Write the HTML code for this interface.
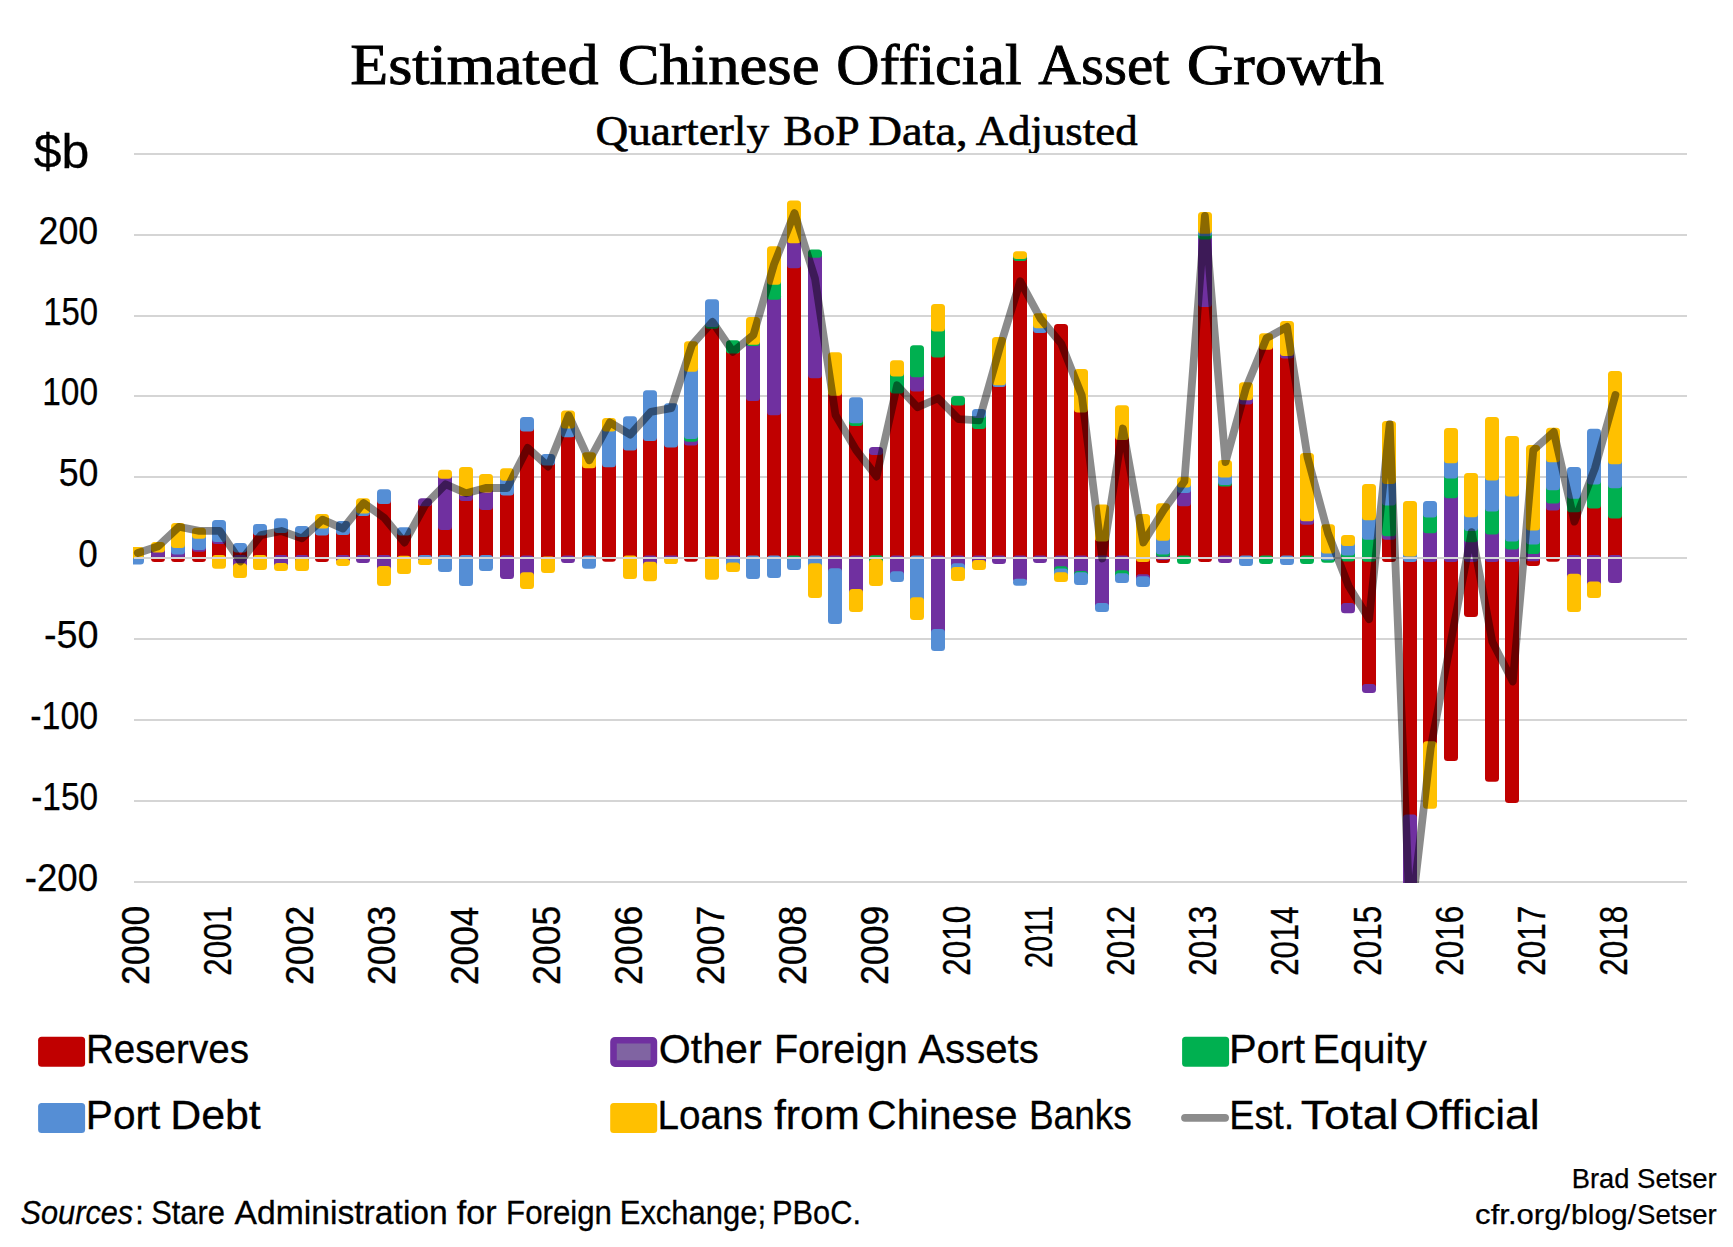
<!DOCTYPE html>
<html lang="en"><head><meta charset="utf-8"><title>Estimated Chinese Official Asset Growth</title>
<style>
html,body{margin:0;padding:0;background:#fff;}
svg{display:block;}
.sans{font-family:"Liberation Sans",sans-serif;fill:#000;}
.serif{font-family:"Liberation Serif",serif;fill:#000;}
</style></head><body>
<svg width="1733" height="1247" viewBox="0 0 1733 1247">
<rect width="1733" height="1247" fill="#fff"/>
<defs><clipPath id="plot"><rect x="133.1" y="133" width="1553.9" height="750"/></clipPath></defs>
<text class="serif" y="84" font-size="58" stroke="#000" stroke-width="0.9"><tspan x="350.23" textLength="248.22" lengthAdjust="spacingAndGlyphs">Estimated</tspan> <tspan x="617.74" textLength="201.79" lengthAdjust="spacingAndGlyphs">Chinese</tspan> <tspan x="836.33" textLength="185.27" lengthAdjust="spacingAndGlyphs">Official</tspan> <tspan x="1038.3" textLength="131.19" lengthAdjust="spacingAndGlyphs">Asset</tspan> <tspan x="1186.77" textLength="197.15" lengthAdjust="spacingAndGlyphs">Growth</tspan></text>
<text class="serif" y="145.4" font-size="43" stroke="#000" stroke-width="0.6"><tspan x="595.45" textLength="173.71" lengthAdjust="spacingAndGlyphs">Quarterly</tspan> <tspan x="783.29" textLength="74.83" lengthAdjust="spacingAndGlyphs">BoP</tspan> <tspan x="868.42" textLength="99.25" lengthAdjust="spacingAndGlyphs">Data,</tspan> <tspan x="975.7" textLength="161.89" lengthAdjust="spacingAndGlyphs">Adjusted</tspan></text>
<text class="sans" x="33.7" y="167.5" font-size="48.5" textLength="55.61" lengthAdjust="spacingAndGlyphs" stroke="#000" stroke-width="0.3">$b</text>
<g stroke="#D5D5D5" stroke-width="2">
<line x1="134" y1="154" x2="1687" y2="154"/>
<line x1="134" y1="235" x2="1687" y2="235"/>
<line x1="134" y1="316" x2="1687" y2="316"/>
<line x1="134" y1="396" x2="1687" y2="396"/>
<line x1="134" y1="477" x2="1687" y2="477"/>
<line x1="134" y1="639" x2="1687" y2="639"/>
<line x1="134" y1="720" x2="1687" y2="720"/>
<line x1="134" y1="801" x2="1687" y2="801"/>
<line x1="134" y1="882" x2="1687" y2="882"/>
</g>
<text class="sans" x="38.58" y="244.1" font-size="39" textLength="59.6" lengthAdjust="spacingAndGlyphs" stroke="#000" stroke-width="0.25">200</text>
<text class="sans" x="43.21" y="325.1" font-size="39" textLength="54.9" lengthAdjust="spacingAndGlyphs" stroke="#000" stroke-width="0.25">150</text>
<text class="sans" x="42.23" y="405.1" font-size="39" textLength="55.89" lengthAdjust="spacingAndGlyphs" stroke="#000" stroke-width="0.25">100</text>
<text class="sans" x="58.79" y="486.1" font-size="39" textLength="39.69" lengthAdjust="spacingAndGlyphs" stroke="#000" stroke-width="0.25">50</text>
<text class="sans" x="78.3" y="567.1" font-size="39" textLength="19.53" lengthAdjust="spacingAndGlyphs" stroke="#000" stroke-width="0.25">0</text>
<text class="sans" x="43.93" y="648.1" font-size="39" textLength="54.6" lengthAdjust="spacingAndGlyphs" stroke="#000" stroke-width="0.25">-50</text>
<text class="sans" x="30.23" y="729.1" font-size="39" textLength="67.89" lengthAdjust="spacingAndGlyphs" stroke="#000" stroke-width="0.25">-100</text>
<text class="sans" x="31.24" y="810.1" font-size="39" textLength="66.87" lengthAdjust="spacingAndGlyphs" stroke="#000" stroke-width="0.25">-150</text>
<text class="sans" x="24.76" y="891.1" font-size="39" textLength="73.44" lengthAdjust="spacingAndGlyphs" stroke="#000" stroke-width="0.25">-200</text>
<g clip-path="url(#plot)">
<rect x="130" y="551.2" width="14" height="13.4" rx="3.5" fill="#558ED5"/>
<rect x="130" y="547.1" width="14" height="11.1" rx="3.5" fill="#FFC000"/>
<rect x="151" y="551.3" width="14" height="10.6" rx="3.5" fill="#C00000"/>
<rect x="151" y="545.6" width="14" height="12.7" rx="3.5" fill="#7030A0"/>
<rect x="151" y="542" width="14" height="10.6" rx="3.5" fill="#FFC000"/>
<rect x="171" y="551.2" width="14" height="10.7" rx="3.5" fill="#C00000"/>
<rect x="171" y="547.5" width="14" height="10.7" rx="3.5" fill="#7030A0"/>
<rect x="171" y="541" width="14" height="13.5" rx="3.5" fill="#558ED5"/>
<rect x="171" y="523.1" width="14" height="24.9" rx="3.5" fill="#FFC000"/>
<rect x="192" y="544.7" width="14" height="17.2" rx="3.5" fill="#C00000"/>
<rect x="192" y="542.9" width="14" height="8.8" rx="3.5" fill="#7030A0"/>
<rect x="192" y="531.8" width="14" height="18.1" rx="3.5" fill="#558ED5"/>
<rect x="192" y="527.7" width="14" height="11.1" rx="3.5" fill="#FFC000"/>
<rect x="212" y="536.9" width="14" height="25" rx="3.5" fill="#C00000"/>
<rect x="212" y="535" width="14" height="8.9" rx="3.5" fill="#7030A0"/>
<rect x="212" y="519.9" width="14" height="22.1" rx="3.5" fill="#558ED5"/>
<rect x="212" y="554.9" width="14" height="13.9" rx="3.5" fill="#FFC000"/>
<rect x="233" y="546.4" width="14" height="15.5" rx="3.5" fill="#C00000"/>
<rect x="233" y="554.9" width="14" height="15.4" rx="3.5" fill="#7030A0"/>
<rect x="233" y="542.9" width="14" height="9.7" rx="3.5" fill="#558ED5"/>
<rect x="233" y="563.3" width="14" height="14.7" rx="3.5" fill="#FFC000"/>
<rect x="253" y="528.5" width="14" height="33.4" rx="3.5" fill="#C00000"/>
<rect x="253" y="524" width="14" height="11.5" rx="3.5" fill="#558ED5"/>
<rect x="253" y="554.9" width="14" height="15" rx="3.5" fill="#FFC000"/>
<rect x="274" y="526" width="14" height="36" rx="3.5" fill="#C00000"/>
<rect x="274" y="555" width="14" height="12.4" rx="3.5" fill="#7030A0"/>
<rect x="274" y="518.2" width="14" height="14.8" rx="3.5" fill="#558ED5"/>
<rect x="274" y="563" width="14" height="7.9" rx="3.5" fill="#FFC000"/>
<rect x="295" y="530" width="14" height="32" rx="3.5" fill="#C00000"/>
<rect x="295" y="555" width="14" height="9.7" rx="3.5" fill="#7030A0"/>
<rect x="295" y="525.9" width="14" height="11.1" rx="3.5" fill="#558ED5"/>
<rect x="295" y="557.7" width="14" height="13.2" rx="3.5" fill="#FFC000"/>
<rect x="315" y="528.6" width="14" height="33.3" rx="3.5" fill="#C00000"/>
<rect x="315" y="521.6" width="14" height="14" rx="3.5" fill="#558ED5"/>
<rect x="315" y="514.1" width="14" height="14.5" rx="3.5" fill="#FFC000"/>
<rect x="336" y="527.9" width="14" height="34.1" rx="3.5" fill="#C00000"/>
<rect x="336" y="555" width="14" height="7.5" rx="3.5" fill="#7030A0"/>
<rect x="336" y="521" width="14" height="13.9" rx="3.5" fill="#558ED5"/>
<rect x="336" y="559.1" width="14" height="6.9" rx="3.4" fill="#FFC000"/>
<rect x="356" y="508.9" width="14" height="50.6" rx="3.5" fill="#C00000"/>
<rect x="356" y="555" width="14" height="8" rx="3.5" fill="#7030A0"/>
<rect x="356" y="506.4" width="14" height="9.5" rx="3.5" fill="#558ED5"/>
<rect x="356" y="498.2" width="14" height="15.2" rx="3.5" fill="#FFC000"/>
<rect x="377" y="497" width="14" height="65" rx="3.5" fill="#C00000"/>
<rect x="377" y="555" width="14" height="18" rx="3.5" fill="#7030A0"/>
<rect x="377" y="489.2" width="14" height="14.8" rx="3.5" fill="#558ED5"/>
<rect x="377" y="566" width="14" height="20.1" rx="3.5" fill="#FFC000"/>
<rect x="397" y="530.8" width="14" height="31.9" rx="3.5" fill="#C00000"/>
<rect x="397" y="527.3" width="14" height="8.3" rx="3.5" fill="#558ED5"/>
<rect x="397" y="555.7" width="14" height="18.4" rx="3.5" fill="#FFC000"/>
<rect x="418" y="501.7" width="14" height="59.9" rx="3.5" fill="#C00000"/>
<rect x="418" y="498.2" width="14" height="8" rx="3.5" fill="#7030A0"/>
<rect x="418" y="555" width="14" height="6.6" rx="3.3" fill="#558ED5"/>
<rect x="418" y="559.1" width="14" height="6" rx="3" fill="#FFC000"/>
<rect x="438" y="523" width="14" height="39" rx="3.5" fill="#C00000"/>
<rect x="438" y="473.3" width="14" height="56.7" rx="3.5" fill="#7030A0"/>
<rect x="438" y="555" width="14" height="16.9" rx="3.5" fill="#558ED5"/>
<rect x="438" y="469.8" width="14" height="9" rx="3.5" fill="#FFC000"/>
<rect x="459" y="493.9" width="14" height="68.1" rx="3.5" fill="#C00000"/>
<rect x="459" y="489.1" width="14" height="11.8" rx="3.5" fill="#7030A0"/>
<rect x="459" y="555" width="14" height="31.1" rx="3.5" fill="#558ED5"/>
<rect x="459" y="467" width="14" height="29.1" rx="3.5" fill="#FFC000"/>
<rect x="479" y="502.9" width="14" height="59.1" rx="3.5" fill="#C00000"/>
<rect x="479" y="485.6" width="14" height="24.3" rx="3.5" fill="#7030A0"/>
<rect x="479" y="555" width="14" height="15.9" rx="3.5" fill="#558ED5"/>
<rect x="479" y="473.9" width="14" height="18.7" rx="3.5" fill="#FFC000"/>
<rect x="500" y="488.5" width="14" height="73.8" rx="3.5" fill="#C00000"/>
<rect x="500" y="555.3" width="14" height="23.7" rx="3.5" fill="#7030A0"/>
<rect x="500" y="473.7" width="14" height="21.8" rx="3.5" fill="#558ED5"/>
<rect x="500" y="468.3" width="14" height="12.4" rx="3.5" fill="#FFC000"/>
<rect x="520" y="424.5" width="14" height="138.1" rx="3.5" fill="#C00000"/>
<rect x="520" y="555.6" width="14" height="23.7" rx="3.5" fill="#7030A0"/>
<rect x="520" y="417.1" width="14" height="14.4" rx="3.5" fill="#558ED5"/>
<rect x="520" y="572.3" width="14" height="16.8" rx="3.5" fill="#FFC000"/>
<rect x="541" y="458.6" width="14" height="104.9" rx="3.5" fill="#C00000"/>
<rect x="541" y="454.1" width="14" height="11.5" rx="3.5" fill="#558ED5"/>
<rect x="541" y="556.5" width="14" height="16.4" rx="3.5" fill="#FFC000"/>
<rect x="561" y="430.3" width="14" height="129.2" rx="3.5" fill="#C00000"/>
<rect x="561" y="555.6" width="14" height="7.4" rx="3.5" fill="#7030A0"/>
<rect x="561" y="421.5" width="14" height="15.8" rx="3.5" fill="#558ED5"/>
<rect x="561" y="410.4" width="14" height="18.1" rx="3.5" fill="#FFC000"/>
<rect x="582" y="461.2" width="14" height="101.4" rx="3.5" fill="#C00000"/>
<rect x="582" y="555.6" width="14" height="13.2" rx="3.5" fill="#558ED5"/>
<rect x="582" y="452.3" width="14" height="15.9" rx="3.5" fill="#FFC000"/>
<rect x="602" y="460.3" width="14" height="101.5" rx="3.5" fill="#C00000"/>
<rect x="602" y="424.5" width="14" height="42.8" rx="3.5" fill="#558ED5"/>
<rect x="602" y="417.9" width="14" height="13.6" rx="3.5" fill="#FFC000"/>
<rect x="623" y="443.6" width="14" height="119" rx="3.5" fill="#C00000"/>
<rect x="623" y="416.2" width="14" height="34.4" rx="3.5" fill="#558ED5"/>
<rect x="623" y="555.6" width="14" height="23.4" rx="3.5" fill="#FFC000"/>
<rect x="643" y="433.9" width="14" height="128.7" rx="3.5" fill="#C00000"/>
<rect x="643" y="555.6" width="14" height="13.2" rx="3.5" fill="#7030A0"/>
<rect x="643" y="390.2" width="14" height="50.7" rx="3.5" fill="#558ED5"/>
<rect x="643" y="561.8" width="14" height="19.4" rx="3.5" fill="#FFC000"/>
<rect x="664" y="440.6" width="14" height="119.9" rx="3.5" fill="#C00000"/>
<rect x="664" y="555.6" width="14" height="4.9" rx="2.4" fill="#7030A0"/>
<rect x="664" y="403.3" width="14" height="44.3" rx="3.5" fill="#558ED5"/>
<rect x="664" y="557.3" width="14" height="6.7" rx="3.4" fill="#FFC000"/>
<rect x="684" y="438.6" width="14" height="123.2" rx="3.5" fill="#C00000"/>
<rect x="684" y="434.8" width="14" height="10.8" rx="3.5" fill="#7030A0"/>
<rect x="684" y="432.1" width="14" height="9.7" rx="3.5" fill="#00B050"/>
<rect x="684" y="364.7" width="14" height="74.4" rx="3.5" fill="#558ED5"/>
<rect x="684" y="341.2" width="14" height="30.5" rx="3.5" fill="#FFC000"/>
<rect x="705" y="321.8" width="14" height="241.7" rx="3.5" fill="#C00000"/>
<rect x="705" y="320.1" width="14" height="8.7" rx="3.5" fill="#00B050"/>
<rect x="705" y="299.3" width="14" height="27.8" rx="3.5" fill="#558ED5"/>
<rect x="705" y="556.5" width="14" height="23.3" rx="3.5" fill="#FFC000"/>
<rect x="726" y="346.5" width="14" height="216.1" rx="3.5" fill="#C00000"/>
<rect x="726" y="555.6" width="14" height="8.7" rx="3.5" fill="#7030A0"/>
<rect x="726" y="340.3" width="14" height="13.2" rx="3.5" fill="#00B050"/>
<rect x="726" y="557.3" width="14" height="11.2" rx="3.5" fill="#558ED5"/>
<rect x="726" y="562.6" width="14" height="9.4" rx="3.5" fill="#FFC000"/>
<rect x="746" y="394" width="14" height="168.4" rx="3.5" fill="#C00000"/>
<rect x="746" y="338.9" width="14" height="62.1" rx="3.5" fill="#7030A0"/>
<rect x="746" y="337.7" width="14" height="8.2" rx="3.5" fill="#00B050"/>
<rect x="746" y="555.4" width="14" height="23.6" rx="3.5" fill="#558ED5"/>
<rect x="746" y="317" width="14" height="27.7" rx="3.5" fill="#FFC000"/>
<rect x="767" y="408.3" width="14" height="154.3" rx="3.5" fill="#C00000"/>
<rect x="767" y="292.7" width="14" height="122.6" rx="3.5" fill="#7030A0"/>
<rect x="767" y="277.7" width="14" height="22" rx="3.5" fill="#00B050"/>
<rect x="767" y="555.6" width="14" height="22.4" rx="3.5" fill="#558ED5"/>
<rect x="767" y="246.2" width="14" height="38.5" rx="3.5" fill="#FFC000"/>
<rect x="787" y="261.3" width="14" height="301.3" rx="3.5" fill="#C00000"/>
<rect x="787" y="236.2" width="14" height="32.1" rx="3.5" fill="#7030A0"/>
<rect x="787" y="555.6" width="14" height="8.7" rx="3.5" fill="#00B050"/>
<rect x="787" y="557.3" width="14" height="12.7" rx="3.5" fill="#558ED5"/>
<rect x="787" y="200.4" width="14" height="42.8" rx="3.5" fill="#FFC000"/>
<rect x="808" y="371.2" width="14" height="191.2" rx="3.5" fill="#C00000"/>
<rect x="808" y="252.9" width="14" height="125.3" rx="3.5" fill="#7030A0"/>
<rect x="808" y="249.4" width="14" height="8.3" rx="3.5" fill="#00B050"/>
<rect x="808" y="555.4" width="14" height="14.9" rx="3.5" fill="#558ED5"/>
<rect x="808" y="563.3" width="14" height="34.7" rx="3.5" fill="#FFC000"/>
<rect x="828" y="388.7" width="14" height="173.7" rx="3.5" fill="#C00000"/>
<rect x="828" y="555.4" width="14" height="19.8" rx="3.5" fill="#7030A0"/>
<rect x="828" y="568.2" width="14" height="55.9" rx="3.5" fill="#558ED5"/>
<rect x="828" y="352.3" width="14" height="43.4" rx="3.5" fill="#FFC000"/>
<rect x="849" y="418.9" width="14" height="143.5" rx="3.5" fill="#C00000"/>
<rect x="849" y="555.4" width="14" height="40.7" rx="3.5" fill="#7030A0"/>
<rect x="849" y="416.2" width="14" height="9.7" rx="3.5" fill="#00B050"/>
<rect x="849" y="397.2" width="14" height="26" rx="3.5" fill="#558ED5"/>
<rect x="849" y="589.1" width="14" height="22.9" rx="3.5" fill="#FFC000"/>
<rect x="869" y="450.6" width="14" height="111.6" rx="3.5" fill="#C00000"/>
<rect x="869" y="447.1" width="14" height="7.9" rx="3.5" fill="#7030A0"/>
<rect x="869" y="555.2" width="14" height="10.8" rx="3.5" fill="#00B050"/>
<rect x="869" y="559" width="14" height="27" rx="3.5" fill="#FFC000"/>
<rect x="890" y="386.5" width="14" height="175.9" rx="3.5" fill="#C00000"/>
<rect x="890" y="555.4" width="14" height="22.8" rx="3.5" fill="#7030A0"/>
<rect x="890" y="369.5" width="14" height="24" rx="3.5" fill="#00B050"/>
<rect x="890" y="571.2" width="14" height="10.9" rx="3.5" fill="#558ED5"/>
<rect x="890" y="360.2" width="14" height="16.3" rx="3.5" fill="#FFC000"/>
<rect x="910" y="384.5" width="14" height="177.9" rx="3.5" fill="#C00000"/>
<rect x="910" y="370.3" width="14" height="21.2" rx="3.5" fill="#7030A0"/>
<rect x="910" y="345.2" width="14" height="32.1" rx="3.5" fill="#00B050"/>
<rect x="910" y="555.4" width="14" height="48.8" rx="3.5" fill="#558ED5"/>
<rect x="910" y="597.2" width="14" height="22.9" rx="3.5" fill="#FFC000"/>
<rect x="931" y="350.6" width="14" height="211.8" rx="3.5" fill="#C00000"/>
<rect x="931" y="555.4" width="14" height="80.7" rx="3.5" fill="#7030A0"/>
<rect x="931" y="324.5" width="14" height="33.1" rx="3.5" fill="#00B050"/>
<rect x="931" y="629.1" width="14" height="21.8" rx="3.5" fill="#558ED5"/>
<rect x="931" y="304.1" width="14" height="27.4" rx="3.5" fill="#FFC000"/>
<rect x="951" y="399.4" width="14" height="163" rx="3.5" fill="#C00000"/>
<rect x="951" y="555.4" width="14" height="14.8" rx="3.5" fill="#7030A0"/>
<rect x="951" y="395.9" width="14" height="9.7" rx="3.5" fill="#00B050"/>
<rect x="951" y="563.2" width="14" height="10.9" rx="3.5" fill="#558ED5"/>
<rect x="951" y="567.1" width="14" height="14" rx="3.5" fill="#FFC000"/>
<rect x="972" y="422.1" width="14" height="140.3" rx="3.5" fill="#C00000"/>
<rect x="972" y="555.4" width="14" height="11.1" rx="3.5" fill="#7030A0"/>
<rect x="972" y="412.6" width="14" height="16.5" rx="3.5" fill="#00B050"/>
<rect x="972" y="409.1" width="14" height="8.8" rx="3.5" fill="#558ED5"/>
<rect x="972" y="560.1" width="14" height="9.9" rx="3.5" fill="#FFC000"/>
<rect x="992" y="380" width="14" height="180.4" rx="3.5" fill="#C00000"/>
<rect x="992" y="555.4" width="14" height="8.5" rx="3.5" fill="#7030A0"/>
<rect x="992" y="378.3" width="14" height="8.7" rx="3.5" fill="#558ED5"/>
<rect x="992" y="337.1" width="14" height="48.2" rx="3.5" fill="#FFC000"/>
<rect x="1013" y="254.7" width="14" height="307.9" rx="3.5" fill="#C00000"/>
<rect x="1013" y="555.6" width="14" height="26.6" rx="3.5" fill="#7030A0"/>
<rect x="1013" y="254.7" width="14" height="6.2" rx="3.1" fill="#00B050"/>
<rect x="1013" y="578.7" width="14" height="7" rx="3.5" fill="#558ED5"/>
<rect x="1013" y="251.2" width="14" height="7.9" rx="3.5" fill="#FFC000"/>
<rect x="1033" y="325.9" width="14" height="233.6" rx="3.5" fill="#C00000"/>
<rect x="1033" y="555.6" width="14" height="7.4" rx="3.5" fill="#7030A0"/>
<rect x="1033" y="321.3" width="14" height="11.6" rx="3.5" fill="#558ED5"/>
<rect x="1033" y="313.3" width="14" height="15" rx="3.5" fill="#FFC000"/>
<rect x="1054" y="324.1" width="14" height="238.5" rx="3.5" fill="#C00000"/>
<rect x="1054" y="555.6" width="14" height="17.6" rx="3.5" fill="#7030A0"/>
<rect x="1054" y="566.2" width="14" height="9.3" rx="3.5" fill="#00B050"/>
<rect x="1054" y="568.5" width="14" height="10" rx="3.5" fill="#558ED5"/>
<rect x="1054" y="572.3" width="14" height="9.7" rx="3.5" fill="#FFC000"/>
<rect x="1074" y="405.6" width="14" height="157" rx="3.5" fill="#C00000"/>
<rect x="1074" y="555.6" width="14" height="22.5" rx="3.5" fill="#7030A0"/>
<rect x="1074" y="571.1" width="14" height="8.2" rx="3.5" fill="#00B050"/>
<rect x="1074" y="572.3" width="14" height="12.7" rx="3.5" fill="#558ED5"/>
<rect x="1074" y="369" width="14" height="43.6" rx="3.5" fill="#FFC000"/>
<rect x="1095" y="534.6" width="14" height="27.8" rx="3.5" fill="#C00000"/>
<rect x="1095" y="555.4" width="14" height="53" rx="3.5" fill="#7030A0"/>
<rect x="1095" y="603.1" width="14" height="8.8" rx="3.5" fill="#558ED5"/>
<rect x="1095" y="504.4" width="14" height="37.2" rx="3.5" fill="#FFC000"/>
<rect x="1115" y="433" width="14" height="129.6" rx="3.5" fill="#C00000"/>
<rect x="1115" y="555.6" width="14" height="21.6" rx="3.5" fill="#7030A0"/>
<rect x="1115" y="570.2" width="14" height="9.2" rx="3.5" fill="#00B050"/>
<rect x="1115" y="573.2" width="14" height="9.7" rx="3.5" fill="#558ED5"/>
<rect x="1115" y="405.2" width="14" height="34.8" rx="3.5" fill="#FFC000"/>
<rect x="1136" y="555" width="14" height="26.3" rx="3.5" fill="#C00000"/>
<rect x="1136" y="574.3" width="14" height="8.9" rx="3.5" fill="#7030A0"/>
<rect x="1136" y="576.2" width="14" height="10.7" rx="3.5" fill="#558ED5"/>
<rect x="1136" y="514" width="14" height="48" rx="3.5" fill="#FFC000"/>
<rect x="1156" y="553" width="14" height="10" rx="3.5" fill="#C00000"/>
<rect x="1156" y="549.7" width="14" height="10.3" rx="3.5" fill="#7030A0"/>
<rect x="1156" y="547.6" width="14" height="9.1" rx="3.5" fill="#00B050"/>
<rect x="1156" y="533.7" width="14" height="20.9" rx="3.5" fill="#558ED5"/>
<rect x="1156" y="503.2" width="14" height="37.5" rx="3.5" fill="#FFC000"/>
<rect x="1177" y="499.2" width="14" height="61.3" rx="3.5" fill="#C00000"/>
<rect x="1177" y="485.9" width="14" height="20.3" rx="3.5" fill="#7030A0"/>
<rect x="1177" y="555.6" width="14" height="8.4" rx="3.5" fill="#00B050"/>
<rect x="1177" y="480.6" width="14" height="12.3" rx="3.5" fill="#558ED5"/>
<rect x="1177" y="477.1" width="14" height="10.5" rx="3.5" fill="#FFC000"/>
<rect x="1198" y="300" width="14" height="262" rx="3.5" fill="#C00000"/>
<rect x="1198" y="232.5" width="14" height="74.5" rx="3.5" fill="#7030A0"/>
<rect x="1198" y="229.2" width="14" height="10.3" rx="3.5" fill="#00B050"/>
<rect x="1198" y="226.8" width="14" height="9.4" rx="3.5" fill="#558ED5"/>
<rect x="1198" y="212" width="14" height="21.8" rx="3.5" fill="#FFC000"/>
<rect x="1218" y="479.4" width="14" height="80.1" rx="3.5" fill="#C00000"/>
<rect x="1218" y="555.6" width="14" height="7.4" rx="3.5" fill="#7030A0"/>
<rect x="1218" y="478" width="14" height="8.4" rx="3.5" fill="#00B050"/>
<rect x="1218" y="470.6" width="14" height="14.4" rx="3.5" fill="#558ED5"/>
<rect x="1218" y="459.9" width="14" height="17.7" rx="3.5" fill="#FFC000"/>
<rect x="1239" y="397.5" width="14" height="164.9" rx="3.5" fill="#C00000"/>
<rect x="1239" y="393.2" width="14" height="11.3" rx="3.5" fill="#7030A0"/>
<rect x="1239" y="555.6" width="14" height="10.3" rx="3.5" fill="#558ED5"/>
<rect x="1239" y="382.2" width="14" height="18" rx="3.5" fill="#FFC000"/>
<rect x="1259" y="342.7" width="14" height="217.8" rx="3.5" fill="#C00000"/>
<rect x="1259" y="555.6" width="14" height="8.4" rx="3.5" fill="#00B050"/>
<rect x="1259" y="333.3" width="14" height="16.4" rx="3.5" fill="#FFC000"/>
<rect x="1280" y="351.5" width="14" height="209.9" rx="3.5" fill="#C00000"/>
<rect x="1280" y="348.9" width="14" height="9.6" rx="3.5" fill="#7030A0"/>
<rect x="1280" y="555.6" width="14" height="9.3" rx="3.5" fill="#558ED5"/>
<rect x="1280" y="321.1" width="14" height="34.8" rx="3.5" fill="#FFC000"/>
<rect x="1300" y="517.7" width="14" height="42.8" rx="3.5" fill="#C00000"/>
<rect x="1300" y="514.2" width="14" height="10.5" rx="3.5" fill="#7030A0"/>
<rect x="1300" y="555.6" width="14" height="8.4" rx="3.5" fill="#00B050"/>
<rect x="1300" y="452.9" width="14" height="68.3" rx="3.5" fill="#FFC000"/>
<rect x="1321" y="553.3" width="14" height="9.5" rx="3.5" fill="#00B050"/>
<rect x="1321" y="546.6" width="14" height="13.7" rx="3.5" fill="#558ED5"/>
<rect x="1321" y="524.3" width="14" height="29.3" rx="3.5" fill="#FFC000"/>
<rect x="1341" y="554.6" width="14" height="55.1" rx="3.5" fill="#C00000"/>
<rect x="1341" y="602.9" width="14" height="10.3" rx="3.5" fill="#7030A0"/>
<rect x="1341" y="548.6" width="14" height="13" rx="3.5" fill="#00B050"/>
<rect x="1341" y="538.9" width="14" height="16.7" rx="3.5" fill="#558ED5"/>
<rect x="1341" y="534.9" width="14" height="11" rx="3.5" fill="#FFC000"/>
<rect x="1362" y="554.7" width="14" height="134.7" rx="3.5" fill="#C00000"/>
<rect x="1362" y="684.1" width="14" height="8.8" rx="3.5" fill="#7030A0"/>
<rect x="1362" y="532.7" width="14" height="29" rx="3.5" fill="#00B050"/>
<rect x="1362" y="513.3" width="14" height="26.4" rx="3.5" fill="#558ED5"/>
<rect x="1362" y="484.1" width="14" height="36.2" rx="3.5" fill="#FFC000"/>
<rect x="1382" y="532.7" width="14" height="29.2" rx="3.5" fill="#C00000"/>
<rect x="1382" y="529.2" width="14" height="10.5" rx="3.5" fill="#7030A0"/>
<rect x="1382" y="498.6" width="14" height="37.6" rx="3.5" fill="#00B050"/>
<rect x="1382" y="477.1" width="14" height="28.5" rx="3.5" fill="#558ED5"/>
<rect x="1382" y="420.9" width="14" height="63.2" rx="3.5" fill="#FFC000"/>
<rect x="1403" y="555" width="14" height="266.4" rx="3.5" fill="#C00000"/>
<rect x="1403" y="814.4" width="14" height="115.6" rx="3.5" fill="#7030A0"/>
<rect x="1403" y="549.5" width="14" height="12.5" rx="3.5" fill="#558ED5"/>
<rect x="1403" y="500.9" width="14" height="55.6" rx="3.5" fill="#FFC000"/>
<rect x="1423" y="554.9" width="14" height="193.4" rx="3.5" fill="#C00000"/>
<rect x="1423" y="526.2" width="14" height="35.7" rx="3.5" fill="#7030A0"/>
<rect x="1423" y="510.6" width="14" height="22.6" rx="3.5" fill="#00B050"/>
<rect x="1423" y="500.9" width="14" height="16.7" rx="3.5" fill="#558ED5"/>
<rect x="1423" y="741.3" width="14" height="67.5" rx="3.5" fill="#FFC000"/>
<rect x="1444" y="554.9" width="14" height="206" rx="3.5" fill="#C00000"/>
<rect x="1444" y="491.2" width="14" height="70.7" rx="3.5" fill="#7030A0"/>
<rect x="1444" y="471.5" width="14" height="26.7" rx="3.5" fill="#00B050"/>
<rect x="1444" y="456.3" width="14" height="22.2" rx="3.5" fill="#558ED5"/>
<rect x="1444" y="428" width="14" height="35.3" rx="3.5" fill="#FFC000"/>
<rect x="1464" y="554.9" width="14" height="62.2" rx="3.5" fill="#C00000"/>
<rect x="1464" y="535.3" width="14" height="26.6" rx="3.5" fill="#7030A0"/>
<rect x="1464" y="523.9" width="14" height="18.4" rx="3.5" fill="#00B050"/>
<rect x="1464" y="510.3" width="14" height="20.6" rx="3.5" fill="#558ED5"/>
<rect x="1464" y="473" width="14" height="44.3" rx="3.5" fill="#FFC000"/>
<rect x="1485" y="554.9" width="14" height="226.9" rx="3.5" fill="#C00000"/>
<rect x="1485" y="527.4" width="14" height="34.5" rx="3.5" fill="#7030A0"/>
<rect x="1485" y="504.5" width="14" height="29.9" rx="3.5" fill="#00B050"/>
<rect x="1485" y="473.6" width="14" height="37.9" rx="3.5" fill="#558ED5"/>
<rect x="1485" y="417.1" width="14" height="63.5" rx="3.5" fill="#FFC000"/>
<rect x="1505" y="554.9" width="14" height="248" rx="3.5" fill="#C00000"/>
<rect x="1505" y="542.4" width="14" height="19.5" rx="3.5" fill="#7030A0"/>
<rect x="1505" y="534.5" width="14" height="14.9" rx="3.5" fill="#00B050"/>
<rect x="1505" y="489.5" width="14" height="52" rx="3.5" fill="#558ED5"/>
<rect x="1505" y="436.1" width="14" height="60.4" rx="3.5" fill="#FFC000"/>
<rect x="1526" y="554.2" width="14" height="11.8" rx="3.5" fill="#C00000"/>
<rect x="1526" y="546.9" width="14" height="14.3" rx="3.5" fill="#7030A0"/>
<rect x="1526" y="537.5" width="14" height="16.4" rx="3.5" fill="#00B050"/>
<rect x="1526" y="523.6" width="14" height="20.9" rx="3.5" fill="#558ED5"/>
<rect x="1526" y="445.1" width="14" height="85.5" rx="3.5" fill="#FFC000"/>
<rect x="1546" y="503.5" width="14" height="58.3" rx="3.5" fill="#C00000"/>
<rect x="1546" y="496.5" width="14" height="14" rx="3.5" fill="#7030A0"/>
<rect x="1546" y="483.3" width="14" height="20.2" rx="3.5" fill="#00B050"/>
<rect x="1546" y="455.2" width="14" height="35.1" rx="3.5" fill="#558ED5"/>
<rect x="1546" y="427.8" width="14" height="34.4" rx="3.5" fill="#FFC000"/>
<rect x="1567" y="505.2" width="14" height="56.8" rx="3.5" fill="#C00000"/>
<rect x="1567" y="555" width="14" height="25.7" rx="3.5" fill="#7030A0"/>
<rect x="1567" y="491.7" width="14" height="20.5" rx="3.5" fill="#00B050"/>
<rect x="1567" y="467" width="14" height="31.7" rx="3.5" fill="#558ED5"/>
<rect x="1567" y="573.7" width="14" height="38.2" rx="3.5" fill="#FFC000"/>
<rect x="1587" y="501.5" width="14" height="60.5" rx="3.5" fill="#C00000"/>
<rect x="1587" y="555" width="14" height="33.6" rx="3.5" fill="#7030A0"/>
<rect x="1587" y="477.5" width="14" height="31" rx="3.5" fill="#00B050"/>
<rect x="1587" y="428.8" width="14" height="55.7" rx="3.5" fill="#558ED5"/>
<rect x="1587" y="581.6" width="14" height="16.5" rx="3.5" fill="#FFC000"/>
<rect x="1608" y="511.5" width="14" height="50.5" rx="3.5" fill="#C00000"/>
<rect x="1608" y="555" width="14" height="28.1" rx="3.5" fill="#7030A0"/>
<rect x="1608" y="481.2" width="14" height="37.3" rx="3.5" fill="#00B050"/>
<rect x="1608" y="457.3" width="14" height="30.9" rx="3.5" fill="#558ED5"/>
<rect x="1608" y="371.1" width="14" height="93.2" rx="3.5" fill="#FFC000"/>
<line x1="134" y1="558" x2="1687" y2="558" stroke="#D5D5D5" stroke-width="2"/>
<polyline points="137.8,553 158.3,546.2 178.8,526.8 199.3,530.9 219.8,530.9 240.4,561.4 260.9,535.1 281.4,531 301.9,538.3 322.5,519.6 343,528.6 363.5,503 384,517.6 404.5,542.5 425.1,505.1 445.6,484.3 466.1,493.3 486.6,487.8 507.2,488 527.7,447.9 548.2,466.5 568.7,415.3 589.3,460.3 609.8,422.4 630.3,434.7 650.8,411.8 671.3,408.2 691.9,345 712.4,321.8 732.9,351.8 753.4,335 774,264.4 794.5,213 815,278.5 835.5,415 856.1,450 876.6,476.5 897.1,385.3 917.6,407.3 938.1,398.2 958.7,419.2 979.2,420.3 999.7,348 1020.2,281.2 1040.8,319.1 1061.3,343.8 1081.8,395.5 1102.3,558.5 1122.9,428.5 1143.4,542.5 1163.9,509.7 1184.4,481.5 1204.9,216 1225.5,462.1 1246,388 1266.5,338.2 1287,326.8 1307.6,457.6 1328.1,533.5 1348.6,586 1369.1,619.2 1389.7,424.1 1410.2,925 1430.7,748 1451.2,639.6 1471.7,532.1 1492.3,641.8 1512.8,681.5 1533.3,450.1 1553.8,431.9 1574.4,521.6 1594.9,468.4 1615.4,395" fill="none" stroke="#000" stroke-opacity="0.455" stroke-width="7.8" stroke-linejoin="round" stroke-linecap="round"/>
</g>
<text class="sans" font-size="39.2" stroke="#000" stroke-width="0.35" transform="translate(149.2,984.1) rotate(-90)" x="-0.91" textLength="79.39" lengthAdjust="spacingAndGlyphs">2000</text>
<text class="sans" font-size="39.2" stroke="#000" stroke-width="0.35" transform="translate(231.2,975) rotate(-90)" x="-0.8" textLength="70.06" lengthAdjust="spacingAndGlyphs">2001</text>
<text class="sans" font-size="39.2" stroke="#000" stroke-width="0.35" transform="translate(313.3,984.1) rotate(-90)" x="-0.91" textLength="79.39" lengthAdjust="spacingAndGlyphs">2002</text>
<text class="sans" font-size="39.2" stroke="#000" stroke-width="0.35" transform="translate(395.4,984.1) rotate(-90)" x="-0.91" textLength="79.39" lengthAdjust="spacingAndGlyphs">2003</text>
<text class="sans" font-size="39.2" stroke="#000" stroke-width="0.35" transform="translate(477.5,984.1) rotate(-90)" x="-0.9" textLength="78.47" lengthAdjust="spacingAndGlyphs">2004</text>
<text class="sans" font-size="39.2" stroke="#000" stroke-width="0.35" transform="translate(559.6,984.1) rotate(-90)" x="-0.91" textLength="79.39" lengthAdjust="spacingAndGlyphs">2005</text>
<text class="sans" font-size="39.2" stroke="#000" stroke-width="0.35" transform="translate(641.7,984.1) rotate(-90)" x="-0.91" textLength="79.39" lengthAdjust="spacingAndGlyphs">2006</text>
<text class="sans" font-size="39.2" stroke="#000" stroke-width="0.35" transform="translate(723.8,984.1) rotate(-90)" x="-0.91" textLength="79.39" lengthAdjust="spacingAndGlyphs">2007</text>
<text class="sans" font-size="39.2" stroke="#000" stroke-width="0.35" transform="translate(805.9,984.1) rotate(-90)" x="-0.91" textLength="79.39" lengthAdjust="spacingAndGlyphs">2008</text>
<text class="sans" font-size="39.2" stroke="#000" stroke-width="0.35" transform="translate(888,984.1) rotate(-90)" x="-0.91" textLength="79.39" lengthAdjust="spacingAndGlyphs">2009</text>
<text class="sans" font-size="39.2" stroke="#000" stroke-width="0.35" transform="translate(970.1,975) rotate(-90)" x="-0.8" textLength="70.06" lengthAdjust="spacingAndGlyphs">2010</text>
<text class="sans" font-size="39.2" stroke="#000" stroke-width="0.35" transform="translate(1052.2,967.2) rotate(-90)" x="-0.74" textLength="62.18" lengthAdjust="spacingAndGlyphs">2011</text>
<text class="sans" font-size="39.2" stroke="#000" stroke-width="0.35" transform="translate(1134.3,975) rotate(-90)" x="-0.8" textLength="70.06" lengthAdjust="spacingAndGlyphs">2012</text>
<text class="sans" font-size="39.2" stroke="#000" stroke-width="0.35" transform="translate(1216.3,975) rotate(-90)" x="-0.8" textLength="70.06" lengthAdjust="spacingAndGlyphs">2013</text>
<text class="sans" font-size="39.2" stroke="#000" stroke-width="0.35" transform="translate(1298.4,975) rotate(-90)" x="-0.79" textLength="69.24" lengthAdjust="spacingAndGlyphs">2014</text>
<text class="sans" font-size="39.2" stroke="#000" stroke-width="0.35" transform="translate(1380.5,975) rotate(-90)" x="-0.8" textLength="70.06" lengthAdjust="spacingAndGlyphs">2015</text>
<text class="sans" font-size="39.2" stroke="#000" stroke-width="0.35" transform="translate(1462.6,975) rotate(-90)" x="-0.8" textLength="70.06" lengthAdjust="spacingAndGlyphs">2016</text>
<text class="sans" font-size="39.2" stroke="#000" stroke-width="0.35" transform="translate(1544.7,975) rotate(-90)" x="-0.8" textLength="70.06" lengthAdjust="spacingAndGlyphs">2017</text>
<text class="sans" font-size="39.2" stroke="#000" stroke-width="0.35" transform="translate(1626.8,975) rotate(-90)" x="-0.8" textLength="70.06" lengthAdjust="spacingAndGlyphs">2018</text>
<rect x="38.1" y="1036.8" width="47" height="30" rx="3.5" fill="#C00000"/>
<rect x="613.5" y="1040.2" width="40.4" height="23.4" rx="1.5" fill="#8064A2" stroke="#7030A0" stroke-width="6.6" stroke-linejoin="round"/>
<rect x="1182.1" y="1036.8" width="47" height="30" rx="3.5" fill="#00B050"/>
<rect x="38.1" y="1102.9" width="47" height="30" rx="3.5" fill="#558ED5"/>
<rect x="610.2" y="1102.9" width="47" height="30" rx="3.5" fill="#FFC000"/>
<line x1="1185" y1="1117.8" x2="1225.1" y2="1117.8" stroke="#8C8C8C" stroke-width="7.8" stroke-linecap="round"/>
<text class="sans" y="1062.5" font-size="41.5" stroke="#000" stroke-width="0.3"><tspan x="86.01" textLength="162.98" lengthAdjust="spacingAndGlyphs">Reserves</tspan></text>
<text class="sans" y="1062.5" font-size="41.5" stroke="#000" stroke-width="0.3"><tspan x="658.71" textLength="102.89" lengthAdjust="spacingAndGlyphs">Other</tspan> <tspan x="773.95" textLength="133.89" lengthAdjust="spacingAndGlyphs">Foreign</tspan> <tspan x="918.3" textLength="120.5" lengthAdjust="spacingAndGlyphs">Assets</tspan></text>
<text class="sans" y="1062.5" font-size="41.5" stroke="#000" stroke-width="0.3"><tspan x="1228.9" textLength="76.12" lengthAdjust="spacingAndGlyphs">Port</tspan> <tspan x="1312.43" textLength="114.31" lengthAdjust="spacingAndGlyphs">Equity</tspan></text>
<text class="sans" y="1128.6" font-size="41.5" stroke="#000" stroke-width="0.3"><tspan x="85.87" textLength="74.46" lengthAdjust="spacingAndGlyphs">Port</tspan> <tspan x="170.2" textLength="90.56" lengthAdjust="spacingAndGlyphs">Debt</tspan></text>
<text class="sans" y="1128.6" font-size="41.5" stroke="#000" stroke-width="0.3"><tspan x="657.51" textLength="105.3" lengthAdjust="spacingAndGlyphs">Loans</tspan> <tspan x="773.9" textLength="85.87" lengthAdjust="spacingAndGlyphs">from</tspan> <tspan x="867.12" textLength="150.53" lengthAdjust="spacingAndGlyphs">Chinese</tspan> <tspan x="1028.92" textLength="102.87" lengthAdjust="spacingAndGlyphs">Banks</tspan></text>
<text class="sans" y="1128.6" font-size="41.5" stroke="#000" stroke-width="0.3"><tspan x="1229.16" textLength="65.23" lengthAdjust="spacingAndGlyphs">Est.</tspan> <tspan x="1300.8" textLength="97.97" lengthAdjust="spacingAndGlyphs">Total</tspan> <tspan x="1404.43" textLength="135.32" lengthAdjust="spacingAndGlyphs">Official</tspan></text>
<text class="sans" y="1224.3" font-size="33.3" stroke="#000" stroke-width="0.3"><tspan x="20.48" textLength="112.77" lengthAdjust="spacingAndGlyphs" font-style="italic">Sources</tspan><tspan x="135.16" textLength="8.52" lengthAdjust="spacingAndGlyphs">:</tspan> <tspan x="151.17" textLength="73.88" lengthAdjust="spacingAndGlyphs">Stare</tspan> <tspan x="234.6" textLength="213.19" lengthAdjust="spacingAndGlyphs">Administration</tspan> <tspan x="456.7" textLength="39.86" lengthAdjust="spacingAndGlyphs">for</tspan> <tspan x="506.12" textLength="105.86" lengthAdjust="spacingAndGlyphs">Foreign</tspan> <tspan x="619.74" textLength="146.25" lengthAdjust="spacingAndGlyphs">Exchange;</tspan> <tspan x="772.05" textLength="88.91" lengthAdjust="spacingAndGlyphs">PBoC.</tspan></text>
<text class="sans" y="1187.8" font-size="28.1" stroke="#000" stroke-width="0.25"><tspan x="1571.75" textLength="57.75" lengthAdjust="spacingAndGlyphs">Brad</tspan> <tspan x="1637.02" textLength="79.68" lengthAdjust="spacingAndGlyphs">Setser</tspan></text>
<text class="sans" y="1224.3" font-size="28.1" stroke="#000" stroke-width="0.25"><tspan x="1475.09" textLength="95.07" lengthAdjust="spacingAndGlyphs">cfr.org/</tspan><tspan x="1571.14" textLength="64.88" lengthAdjust="spacingAndGlyphs">blog/</tspan><tspan x="1637.02" textLength="79.68" lengthAdjust="spacingAndGlyphs">Setser</tspan></text>
</svg>
</body></html>
